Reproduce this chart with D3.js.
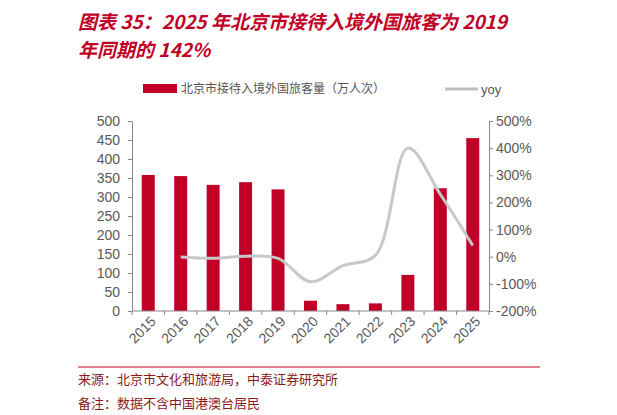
<!DOCTYPE html>
<html><head><meta charset="utf-8">
<script src="https://cdn.jsdelivr.net/npm/d3@7"></script>
<style>body{margin:0;background:#fff;font-family:"Liberation Sans",Arial,sans-serif}</style>
</head><body><svg id="c" width="617" height="415"></svg>
<script>
var years = ["2015","2016","2017","2018","2019","2020","2021","2022","2023","2024","2025"];
var visitors = [358, 355, 332, 339, 320, 27, 18, 20, 95, 323, 455];
var yoy = [null, -1, -6, 2, -6, -92, -33, 5, 400, 230, 41];
var leftTicks = [0, 50, 100, 150, 200, 250, 300, 350, 400, 450, 500];
var rightTicks = [-200, -100, 0, 100, 200, 300, 400, 500];

var svg = d3.select("#c");
var red = "#c00026";
var L = 132, R = 489, T = 121, B = 311;

var t = svg.append("text").attr("x", 78).attr("y", 29).attr("fill", red)
    .attr("font-size", 19).attr("font-weight", "bold").attr("font-style", "italic")
    .attr("font-family", "Noto Sans CJK SC");
t.append("tspan").text("图表 35：2025 年北京市接待入境外国旅客为 2019");
t.append("tspan").attr("x", 78).attr("y", 57).text("年同期的 142%");

// legend
svg.append("rect").attr("x", 143).attr("y", 84).attr("width", 34).attr("height", 9).attr("fill", red);
svg.append("text").attr("x", 181).attr("y", 93).attr("font-size", 12).attr("fill", "#555")
    .attr("font-family", "Noto Sans CJK SC").text("北京市接待入境外国旅客量（万人次）");
svg.append("line").attr("x1", 445).attr("x2", 478).attr("y1", 89).attr("y2", 89)
    .attr("stroke", "#bfbfbf").attr("stroke-width", 3);
svg.append("text").attr("x", 481).attr("y", 94).attr("font-size", 13).attr("fill", "#555").text("yoy");

var x = d3.scaleBand().domain(years).range([L, R]).paddingInner(0.6).paddingOuter(0.3);
var y = d3.scaleLinear().domain([0, 500]).range([B, T]);
var y2 = d3.scaleLinear().domain([-200, 500]).range([B, T]);

var g = svg.append("g");
g.selectAll("rect.bar").data(visitors).enter().append("rect").attr("class", "bar")
    .attr("x", function (d, i) { return x(years[i]); })
    .attr("width", x.bandwidth())
    .attr("y", function (d) { return y(d); })
    .attr("height", function (d) { return B - y(d); })
    .attr("fill", red);

var line = d3.line()
    .defined(function (d) { return d !== null; })
    .x(function (d, i) { return x(years[i]) + x.bandwidth() / 2; })
    .y(function (d) { return y2(d); })
    .curve(d3.curveCatmullRom.alpha(0.5));
g.append("path").datum(yoy).attr("d", line).attr("fill", "none")
    .attr("stroke", "#c8c8c8").attr("stroke-width", 3);

function style(a) {
    a.selectAll("path, line").attr("stroke", "#888");
    a.selectAll("text").attr("font-size", 14).attr("fill", "#595959")
        .attr("font-family", "Liberation Sans, Arial");
}
var ya = svg.append("g").attr("transform", "translate(" + L + ",0)")
    .call(d3.axisLeft(y).tickValues(leftTicks).tickSize(4).tickSizeOuter(0)).call(style);
ya.selectAll("text").attr("x", -12);
var yb = svg.append("g").attr("transform", "translate(" + R + ",0)")
    .call(d3.axisRight(y2).tickValues(rightTicks).tickFormat(function (d) { return d + "%"; })
        .tickSize(4).tickSizeOuter(0)).call(style);
var xa = svg.append("g").attr("transform", "translate(0," + B + ")")
    .call(d3.axisBottom(x).tickSize(0)).call(style);
xa.select(".domain").attr("d", "M" + L + ",0H" + R);
var step = x.step();
xa.selectAll(".sep").data(d3.range(years.length + 1)).enter().append("line")
    .attr("x1", function (i) { return L + x.paddingOuter() * step - step * x.paddingInner() / 2 + i * step; })
    .attr("x2", function (i) { return L + x.paddingOuter() * step - step * x.paddingInner() / 2 + i * step; })
    .attr("y1", 0).attr("y2", 4).attr("stroke", "#888");
xa.selectAll(".tick text").attr("transform", "rotate(-45)").attr("text-anchor", "end")
    .attr("dx", "-2").attr("dy", "8").attr("y", 6);

svg.append("line").attr("x1", 78).attr("x2", 540).attr("y1", 367).attr("y2", 367)
    .attr("stroke", red).attr("stroke-width", 1);
svg.append("text").attr("x", 78).attr("y", 384).attr("font-size", 13).attr("fill", "#8b1a1a")
    .attr("font-family", "Noto Sans CJK SC").text("来源：北京市文化和旅游局，中泰证券研究所");
svg.append("text").attr("x", 78).attr("y", 408).attr("font-size", 13).attr("fill", "#8b1a1a")
    .attr("font-family", "Noto Sans CJK SC").text("备注：数据不含中国港澳台居民");
</script></body></html>
